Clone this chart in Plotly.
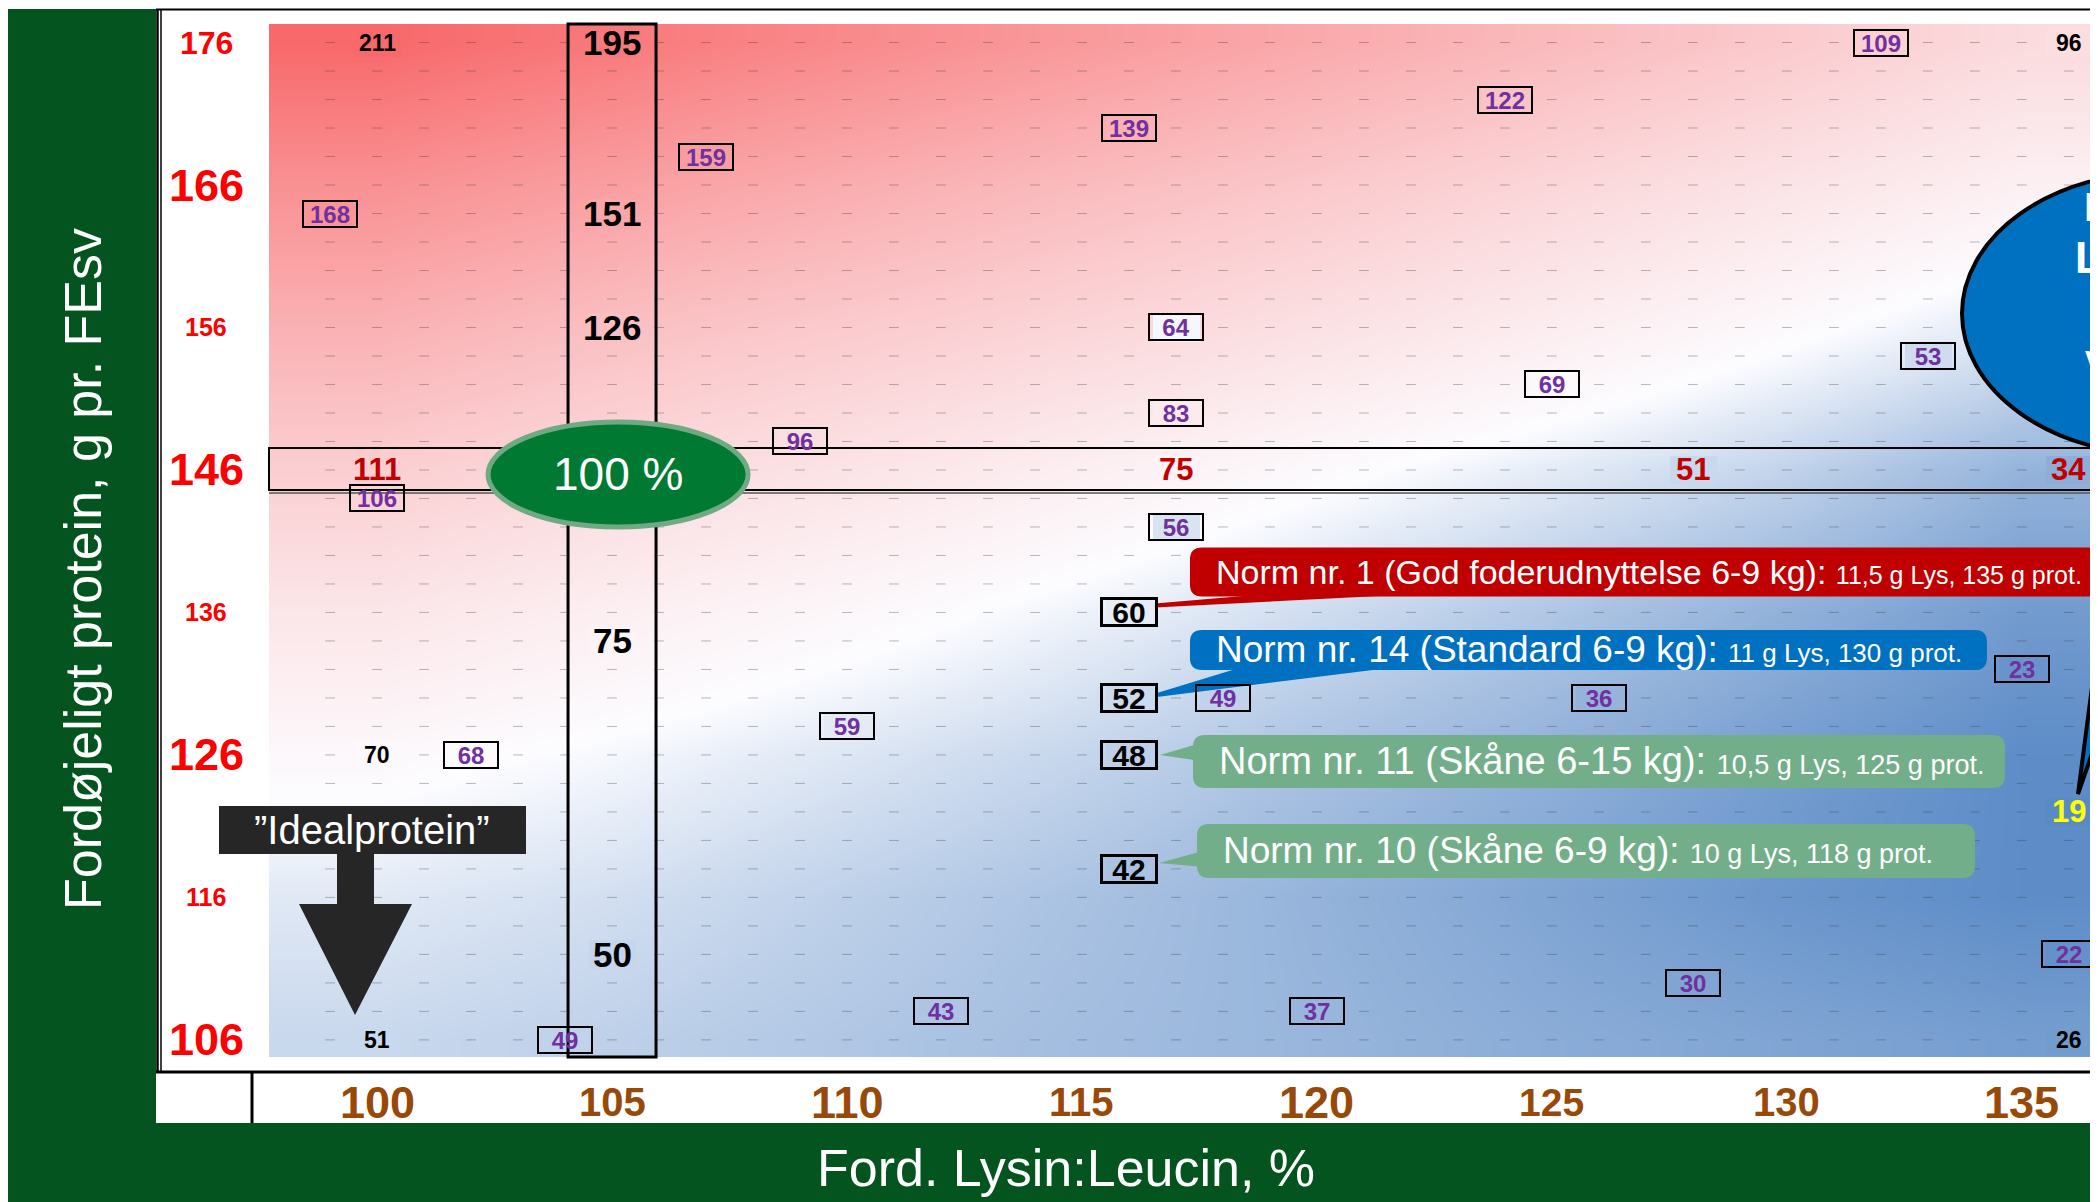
import plotly.graph_objects as go

# Ford. lysin:leucin (%) og fordøjeligt protein (g pr. FEsv), aflæst for hver 10. enhed
lysin_akse = [100, 105, 110, 115, 120, 125, 130, 135]
protein_akse = [176, 166, 156, 146, 136, 126, 116, 106]

n176 = [211, 195, 179, 163, 147, 131, 115, 99]
n166 = [172, 158, 144, 130, 117, 103, 90, 78]
n156 = [140, 126, 115, 104, 93, 81, 69, 57]
n146 = [111, 100, 90, 79, 69, 59, 49, 36]
n136 = [88, 79, 71, 62, 53, 44, 35, 26]
n126 = [70, 64, 57, 50, 42, 35, 27, 20]
n116 = [58, 54, 48, 42, 36, 30, 24, 20]
n106 = [51, 48, 44, 40, 37, 33, 30, 27]

# cellernes kategorier (kolonner 99..136, rækker 176..106 i trin af 2)
celle_x = list(range(99, 137))
celle_y = list(range(176, 105, -2))

# forsøgsværdier (lilla bokse)
forsoeg_x = [99, 100, 107, 116, 124, 132, 109, 117, 117, 125, 133, 117, 118, 126, 135, 110, 102, 104, 112, 120, 128, 136]
forsoeg_y = [164, 144, 168, 170, 172, 176, 148, 156, 150, 152, 154, 142, 130, 130, 132, 128, 126, 106, 108, 108, 110, 112]
forsoeg_v = [168, 106, 159, 139, 122, 109, 96, 64, 83, 69, 53, 56, 49, 36, 23, 59, 68, 49, 43, 37, 30, 22]

hjoerne_x = [100, 136, 100, 100, 136]
hjoerne_y = [176, 176, 126, 106, 106]
hjoerne_v = [211, 96, 70, 51, 26]

kol105_y = [176, 164, 156, 134, 112]
kol105_v = [195, 151, 126, 75, 50]

r146_x = [100, 117, 128, 136]
r146_v = [111, 75, 51, 34]

norm_navn = ["Norm nr. 1 (God foderudnyttelse 6-9 kg):", "Norm nr. 14 (Standard 6-9 kg):",
             "Norm nr. 11 (Skåne 6-15 kg):", "Norm nr. 10 (Skåne 6-9 kg):"]
norm_rest = ["11,5 g Lys, 135 g prot.", "11 g Lys, 130 g prot.", "10,5 g Lys, 125 g prot.", "10 g Lys, 118 g prot."]
norm_x = 116
norm_y = [136, 130, 126, 118]
norm_v = [60, 52, 48, 42]

min_x, min_y, min_v = 136, 122, 19

y_ticks = [176, 166, 156, 146, 136, 126, 116, 106]
x_ticks = [100, 105, 110, 115, 120, 125, 130, 135]

FONT = "Liberation Sans, Arial, sans-serif"
GRON = "#03541F"
skala = [[0, "#5A8AC6"], [0.245, "#FCFCFF"], [1, "#F8696B"]]

W, H = 2098, 1202
ML, MR, MT, MB = 261, 9, 16, 153
PW, PH = W - ML - MR, H - MT - MB
SIDE = 8  # sidens egen margen i browseren


def pxx(p):
    return (p - SIDE - ML) / PW


def pxy(p):
    return (H - MB - (p - SIDE)) / PH


fig = go.Figure()
fig.add_trace(go.Heatmap(x=lysin_akse, y=protein_akse,
                         z=[n176, n166, n156, n146, n136, n126, n116, n106],
                         zsmooth="best", colorscale=skala, zmin=19, zmax=211,
                         showscale=False, hoverinfo="skip"))

# celler med egne værdier
celler = list(zip(forsoeg_x, forsoeg_y, forsoeg_v)) + list(zip(hjoerne_x, hjoerne_y, hjoerne_v))
celler += [(105, y, v) for y, v in zip(kol105_y, kol105_v)]
celler += [(x, 146, v) for x, v in zip(r146_x, r146_v)]
celler += [(norm_x, y, v) for y, v in zip(norm_y, norm_v)]
celler += [(min_x, min_y, min_v)]
zz = [[None] * len(celle_x) for _ in celle_y]
for x, y, v in celler:
    zz[celle_y.index(y)][celle_x.index(x)] = v
fig.add_trace(go.Heatmap(x=celle_x, y=celle_y, z=zz, colorscale=skala, zmin=19, zmax=211,
                         showscale=False, hoverinfo="skip"))

# små tal i hver celle (ulæselige) -> små streger
optaget = {(x, y) for x, y, v in celler}
dx, dy = [], []
for y in celle_y:
    for x in celle_x:
        if (x, y) not in optaget:
            dx.append(x)
            dy.append(y)
fig.add_trace(go.Scatter(x=dx, y=dy, mode="markers", hoverinfo="skip",
                         marker=dict(symbol="line-ew", size=7,
                                     line=dict(width=1, color="rgba(60,60,60,0.35)"))))

shapes = []
ann = []

# kolonne 105 og række 146
shapes.append(dict(type="rect", xref="x", yref="paper", xsizemode="pixel", xanchor=105,
                   x0=-44, x1=44, y0=0, y1=1, line=dict(color="black", width=3)))
shapes.append(dict(type="rect", xref="paper", yref="y", ysizemode="pixel", yanchor=146,
                   x0=0, x1=1, y0=-20, y1=22, line=dict(color="black", width=2)))
shapes.append(dict(type="line", xref="paper", yref="y", ysizemode="pixel", yanchor=146,
                   x0=0, x1=1, y0=-23, y1=-23, line=dict(color="#555", width=1.5)))

# 100 % ellipse
shapes.append(dict(type="circle", xref="x", yref="y", xsizemode="pixel", ysizemode="pixel",
                   xanchor=105, yanchor=146, x0=-124, x1=136, y0=-57, y1=48,
                   fillcolor="#007A33", line=dict(color="#6FAA82", width=5)))
ann.append(dict(x=105, y=146, xshift=6, yshift=-4, text="100 %", showarrow=False,
                font=dict(family=FONT, size=46, color="white")))

# "Idealprotein" pil
ix, iy = pxx(359), pxy(1040)
shapes.append(dict(type="path", xref="paper", yref="paper", xsizemode="pixel", ysizemode="pixel",
                   xanchor=ix, yanchor=iy, path="M-140,186 L167,186 L167,234 L-140,234 Z",
                   fillcolor="#262626", line=dict(width=0)))
shapes.append(dict(type="path", xref="paper", yref="paper", xsizemode="pixel", ysizemode="pixel",
                   xanchor=ix, yanchor=iy,
                   path="M-22,187 L15,187 L15,136 L53,136 L-4,25 L-60,136 L-22,136 Z",
                   fillcolor="#262626", line=dict(width=0)))
ann.append(dict(xref="paper", yref="paper", x=ix, y=iy, xshift=13, yshift=210, xanchor="center",
                yanchor="middle", text="”Idealprotein”", showarrow=False,
                font=dict(family=FONT, size=40, color="white")))


def rrect(x0, x1, y0, y1, r):
    return (f"M{x0 + r},{y0} L{x1 - r},{y0} Q{x1},{y0} {x1},{y0 + r} L{x1},{y1 - r} "
            f"Q{x1},{y1} {x1 - r},{y1} L{x0 + r},{y1} Q{x0},{y1} {x0},{y1 - r} "
            f"L{x0},{y0 + r} Q{x0},{y0} {x0 + r},{y0} Z")


norm_farve = ["#C00000", "#0070C0", "#72AE89", "#72AE89"]
norm_geo = [(61, 1000, 16, 65, "M26,5 L26,9 L120,17 L260,17 Z", 85, 34, 25),
            (61, 858, 28, 68, "M28,1 L28,5 L110,30 L260,30 Z", 85, 37, 26),
            (64, 876, -33, 20, "M31,0 L72,12 L72,-6 Z", 88, 38, 27),
            (68, 846, -9, 45, "M30,6 L74,18 L74,2 Z", 92, 37, 27)]
for navn, rest, y, farve, geo in zip(norm_navn, norm_rest, norm_y, norm_farve, norm_geo):
    x0, x1, y0, y1, hale, tx, fs, fs2 = geo
    for p in (hale, rrect(x0, x1, y0, y1, 12)):
        shapes.append(dict(type="path", xref="x", yref="y", xsizemode="pixel", ysizemode="pixel",
                           xanchor=norm_x, yanchor=y, path=p, fillcolor=farve, line=dict(width=0)))
    ann.append(dict(x=norm_x, y=y, xshift=tx, yshift=(y0 + y1) / 2, xanchor="left", yanchor="middle",
                    showarrow=False, font=dict(family=FONT, size=fs, color="white"),
                    text=f"{navn} <span style='font-size:{fs2}px'>{rest}</span>"))

# blå ellipse (delvist uden for billedet)
ex, ey = pxx(2062), pxy(335)
shapes.append(dict(type="path", xref="paper", yref="paper", xsizemode="pixel", ysizemode="pixel",
                   xanchor=ex, yanchor=ey, path="M16,-459 L63,-100 L140,-100 Z",
                   fillcolor="#0070C0", line=dict(color="black", width=4)))
shapes.append(dict(type="circle", xref="paper", yref="paper", xsizemode="pixel", ysizemode="pixel",
                   xanchor=ex, yanchor=ey, x0=-100, x1=300, y0=-120, y1=163,
                   fillcolor="#0070C0", line=dict(color="black", width=4)))
for t, s, xs, ys in [("Bedste", 40, 20, 128), ("Lys:Leu", 44, 11, 77), ("ved", 30, 21, -22)]:
    ann.append(dict(xref="paper", yref="paper", x=ex, y=ey, xshift=xs, yshift=ys, xanchor="left",
                    yanchor="middle", text=f"<b>{t}</b>", showarrow=False,
                    font=dict(family=FONT, size=s, color="white")))

# ramme
shapes += [
    dict(type="rect", xref="paper", yref="paper", x0=pxx(8), x1=pxx(156), y0=pxy(1215), y1=pxy(9),
         fillcolor=GRON, line=dict(width=0)),
    dict(type="rect", xref="paper", yref="paper", x0=pxx(8), x1=pxx(2110), y0=pxy(1215), y1=pxy(1123),
         fillcolor=GRON, line=dict(width=0)),
    dict(type="line", xref="paper", yref="paper", x0=pxx(156), x1=pxx(2110), y0=pxy(9.5), y1=pxy(9.5),
         line=dict(color="black", width=2)),
    dict(type="line", xref="paper", yref="paper", x0=pxx(157.5), x1=pxx(157.5), y0=pxy(9), y1=pxy(1072),
         line=dict(color="black", width=2.5)),
    dict(type="line", xref="paper", yref="paper", x0=pxx(161), x1=pxx(161), y0=pxy(9), y1=pxy(1072),
         line=dict(color="black", width=1.5)),
    dict(type="line", xref="paper", yref="paper", x0=pxx(156), x1=pxx(2110), y0=pxy(1072), y1=pxy(1072),
         line=dict(color="black", width=3)),
    dict(type="line", xref="paper", yref="paper", x0=pxx(252), x1=pxx(252), y0=pxy(1072), y1=pxy(1123),
         line=dict(color="black", width=3)),
]

# tal i cellerne
for x, y, v in zip(forsoeg_x, forsoeg_y, forsoeg_v):
    ann.append(dict(x=x, y=y, text=f"<b>{v}</b>", showarrow=False, width=50, height=22, borderpad=1,
                    bordercolor="black", borderwidth=2, font=dict(family=FONT, size=24, color="#7030A0")))
for x, y, v in zip(hjoerne_x, hjoerne_y, hjoerne_v):
    ann.append(dict(x=x, y=y, text=f"<b>{v}</b>", showarrow=False,
                    font=dict(family=FONT, size=23, color="black")))
for y, v in zip(kol105_y, kol105_v):
    ann.append(dict(x=105, y=y, text=f"<b>{v}</b>", showarrow=False,
                    font=dict(family=FONT, size=35, color="black")))
for x, v in zip(r146_x, r146_v):
    ann.append(dict(x=x, y=146, text=f"<b>{v}</b>", showarrow=False,
                    font=dict(family=FONT, size=31, color="#C00000")))
for y, v in zip(norm_y, norm_v):
    ann.append(dict(x=norm_x, y=y, text=f"<b>{v}</b>", showarrow=False, width=50, height=22, borderpad=1,
                    bordercolor="black", borderwidth=3, font=dict(family=FONT, size=30, color="black")))
ann.append(dict(x=min_x, y=min_y, text=f"<b>{min_v}</b>", showarrow=False,
                font=dict(family=FONT, size=31, color="#FFFF00")))

# akser
for t, s in zip(y_ticks, [32, 45, 25, 45, 25, 45, 25, 45]):
    ann.append(dict(xref="paper", x=pxx(206), y=t, xanchor="center", yanchor="middle",
                    text=f"<b>{t}</b>", showarrow=False, font=dict(family=FONT, size=s, color="#FF0000")))
for t, s in zip(x_ticks, [45, 40, 45, 40, 45, 39, 40, 45]):
    ann.append(dict(yref="paper", y=pxy(1102), x=t, xanchor="center", yanchor="middle",
                    text=f"<b>{t}</b>", showarrow=False, font=dict(family=FONT, size=s, color="#984807")))
ann.append(dict(xref="paper", yref="paper", x=pxx(1066), y=pxy(1168), xanchor="center", yanchor="middle",
                text="Ford. Lysin:Leucin, %", showarrow=False, font=dict(family=FONT, size=52, color="white")))
ann.append(dict(xref="paper", yref="paper", x=pxx(83), y=pxy(569), xanchor="center", yanchor="middle",
                textangle=-90, text="Fordøjeligt protein, g pr. FEsv", showarrow=False,
                font=dict(family=FONT, size=52, color="white")))

fig.update_layout(
    width=W, height=H, margin=dict(l=ML, r=MR, t=MT, b=MB),
    paper_bgcolor="white", plot_bgcolor="white", showlegend=False,
    xaxis=dict(range=[97.7, 136.6], visible=False, fixedrange=True),
    yaxis=dict(range=[104.8, 177.3], visible=False, fixedrange=True),
    shapes=shapes, annotations=ann,
)
fig.write_html("out.html")
